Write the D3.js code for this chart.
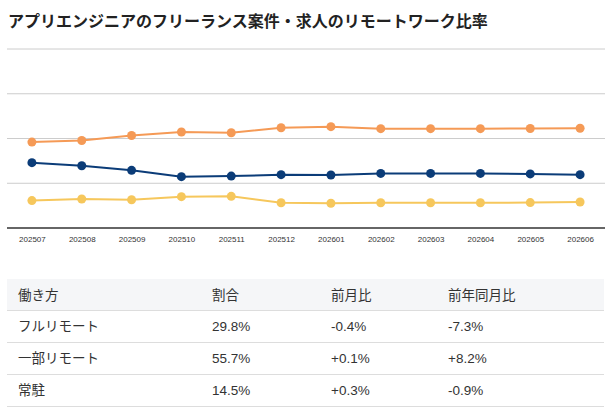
<!DOCTYPE html>
<html>
<head>
<meta charset="utf-8">
<script src="https://cdn.jsdelivr.net/npm/d3@7"></script>
<style>
  html, body { margin: 0; padding: 0; background: #fff; }
  svg { display: block; font-family: "Liberation Sans", "Noto Sans CJK JP", sans-serif; }
</style>
</head>
<body>
<div id="chart"></div>
<script>
// data
var months = ['202507', '202508', '202509', '202510', '202511', '202512',
              '202601', '202602', '202603', '202604', '202605', '202606'];
var partRemote = [48.0, 48.9, 51.7, 53.6, 53.2, 56.0, 56.6, 55.5, 55.5, 55.5, 55.6, 55.7];
var fullRemote = [36.5, 34.8, 32.2, 28.7, 29.0, 29.8, 29.6, 30.5, 30.5, 30.5, 30.2, 29.8];
var onSite     = [15.3, 16.2, 15.8, 17.5, 17.7, 14.1, 13.8, 14.1, 14.1, 14.1, 14.2, 14.5];
var yTicks = [0, 25, 50, 75, 100];

var tableHeader = ['働き方', '割合', '前月比', '前年同月比'];
var tableRows = [
    ['フルリモート', '29.8%', '-0.4%', '-7.3%'],
    ['一部リモート', '55.7%', '+0.1%', '+8.2%'],
    ['常駐', '14.5%', '+0.3%', '-0.9%']
];

var title = 'アプリエンジニアのフリーランス案件・求人のリモートワーク比率';

var W = 616, H = 417;
var margin = {top: 49, right: 11, bottom: 189, left: 7},
    width = W - margin.left - margin.right,
    height = H - margin.top - margin.bottom;

var svg = d3.select('#chart').append('svg')
    .attr('width', W)
    .attr('height', H);

svg.append('text')
    .attr('x', 8)
    .attr('y', 27)
    .attr('font-family', '"Noto Sans CJK JP", sans-serif')
    .attr('font-size', 16)
    .attr('font-weight', 'bold')
    .attr('fill', '#222')
    .text(title);

var g = svg.append('g')
    .attr('transform', 'translate(' + margin.left + ',' + margin.top + ')');

var x = d3.scalePoint()
    .domain(months)
    .range([0, width])
    .padding(0.5);
var y = d3.scaleLinear()
    .domain([0, 100])
    .range([height, 0]);

// gridlines
g.selectAll('.grid')
    .data(yTicks.slice(1))
  .enter().append('line')
    .attr('class', 'grid')
    .attr('x1', 0)
    .attr('x2', width)
    .attr('y1', function(d) { return y(d); })
    .attr('y2', function(d) { return y(d); })
    .attr('stroke', '#cccccc')
    .attr('stroke-width', 1);

// x axis
var xAxis = g.append('g')
    .attr('transform', 'translate(0,' + height + ')')
    .call(d3.axisBottom(x).tickSize(0).tickPadding(8));
xAxis.select('.domain')
    .attr('stroke', '#333')
    .attr('stroke-width', 1.5)
    .attr('d', 'M0,0H' + width);
xAxis.selectAll('text')
    .attr('font-family', '"Liberation Sans", Arial, sans-serif')
    .attr('font-size', 8)
    .attr('fill', '#333');

var series = [
    {values: partRemote, color: '#f59a56'},
    {values: fullRemote, color: '#0b3c78'},
    {values: onSite, color: '#f6c75c'}
];

var line = d3.line()
    .x(function(d, i) { return x(months[i]); })
    .y(function(d) { return y(d); });

series.forEach(function(s) {
    g.append('path')
        .datum(s.values)
        .attr('fill', 'none')
        .attr('stroke', s.color)
        .attr('stroke-width', 2)
        .attr('d', line);
    g.selectAll(null)
        .data(s.values)
      .enter().append('circle')
        .attr('cx', function(d, i) { return x(months[i]); })
        .attr('cy', function(d) { return y(d); })
        .attr('r', 4.5)
        .attr('fill', s.color);
});

// table
var tLeft = 7, tRight = 604, tTop = 279, headH = 31, rowH = 32;
var colX = [18, 212, 331, 448];
var t = svg.append('g');

t.append('rect')
    .attr('x', tLeft)
    .attr('y', tTop)
    .attr('width', tRight - tLeft)
    .attr('height', headH)
    .attr('fill', '#f5f6f8');

t.selectAll('.head')
    .data(tableHeader)
  .enter().append('text')
    .attr('x', function(d, i) { return colX[i]; })
    .attr('y', tTop + headH / 2 + 5)
    .attr('font-size', 13.5)
    .attr('fill', '#333')
    .text(function(d) { return d; });

tableRows.forEach(function(row, r) {
    var top = tTop + headH + r * rowH;
    t.append('line')
        .attr('x1', tLeft).attr('x2', tRight)
        .attr('y1', top + 0.5).attr('y2', top + 0.5)
        .attr('stroke', '#dddddd');
    t.selectAll(null)
        .data(row)
      .enter().append('text')
        .attr('x', function(d, i) { return colX[i]; })
        .attr('y', top + rowH / 2 + 5)
        .attr('font-size', 13.5)
        .attr('fill', '#333')
        .text(function(d) { return d; });
});
t.append('line')
    .attr('x1', tLeft).attr('x2', tRight)
    .attr('y1', tTop + headH + tableRows.length * rowH + 0.5)
    .attr('y2', tTop + headH + tableRows.length * rowH + 0.5)
    .attr('stroke', '#dddddd');
</script>
</body>
</html>
